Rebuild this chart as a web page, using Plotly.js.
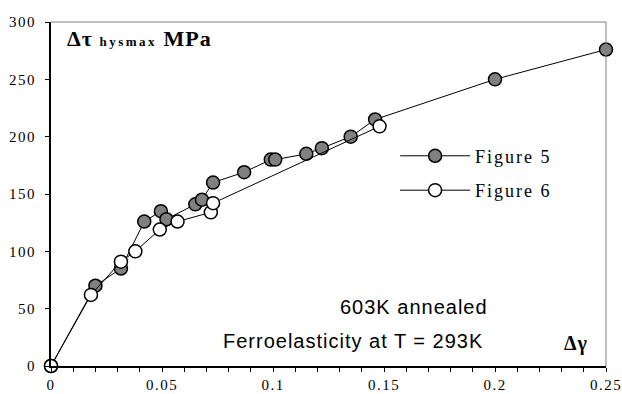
<!DOCTYPE html>
<html>
<head>
<meta charset="utf-8">
<script src="https://cdn.plot.ly/plotly-3.0.1.min.js"></script>
<style>
html,body{margin:0;padding:0;background:#fff;}
#chart{width:622px;height:394px;}
.legendtext{letter-spacing:2px;}
.annotation-text{letter-spacing:1px;}
</style>
</head>
<body>
<div id="chart"></div>
<script>
// Figure 5 series (grey markers)
const fig5X = [0, 0.020, 0.0315, 0.042, 0.0495, 0.052, 0.065, 0.068, 0.073, 0.087, 0.099, 0.101, 0.115, 0.122, 0.135, 0.146, 0.200, 0.250];
const fig5Y = [0, 70, 85, 126, 135, 128, 141, 145, 160, 169, 180, 180, 185, 190, 200, 215, 250, 276];
// Figure 6 series (white markers)
const fig6X = [0, 0.018, 0.0315, 0.038, 0.049, 0.057, 0.072, 0.073, 0.148];
const fig6Y = [0, 62, 91, 100, 119, 126, 134, 142, 209];
const seriesNames = ["Figure 5", "Figure 6"];
const xTicks = [0, 0.05, 0.1, 0.15, 0.2, 0.25];
const yTicks = [0, 50, 100, 150, 200, 250, 300];

const serif = "Liberation Serif";
const sans = "Liberation Sans";

const traces = [
  {x: fig5X, y: fig5Y, name: seriesNames[0], type: "scatter", mode: "lines+markers",
   legendgroup: "a", cliponaxis: false,
   line: {color: "#000", width: 1},
   marker: {size: 13, color: "#808080", line: {color: "#000", width: 1.5}}},
  {x: fig6X, y: fig6Y, name: seriesNames[1], type: "scatter", mode: "lines+markers",
   legendgroup: "b", cliponaxis: false,
   line: {color: "#000", width: 1},
   marker: {size: 13, color: "#fff", line: {color: "#000", width: 1.5}}}
];

const layout = {
  width: 622, height: 394,
  margin: {l: 51, r: 16, t: 22, b: 28},
  paper_bgcolor: "#fff", plot_bgcolor: "#fff",
  font: {family: serif, color: "#000"},
  showlegend: true,
  legend: {x: 0.62, y: 0.664, xanchor: "left", yanchor: "top",
           bgcolor: "rgba(0,0,0,0)", borderwidth: 0,
           font: {family: serif, size: 18, color: "#000"},
           itemwidth: 70, tracegroupgap: 8, traceorder: "grouped"},
  xaxis: {range: [0, 0.25], tickvals: xTicks, showgrid: false, zeroline: false,
          showline: true, linecolor: "#000", linewidth: 2, ticklabeloverflow: "allow",
          ticks: "outside", ticklen: 4, tickwidth: 1, tickcolor: "#000",
          minor: {dtick: 0.01, ticks: "outside", ticklen: 4, tickwidth: 1, tickcolor: "#000", showgrid: false},
          tickfont: {family: serif, size: 15, color: "#000"}},
  yaxis: {range: [0, 300], tickvals: yTicks, showgrid: false, zeroline: false,
          showline: true, linecolor: "#000", linewidth: 2, ticklabelstandoff: 6,
          ticks: "outside", ticklen: 4, tickwidth: 1, tickcolor: "#000",
          tickfont: {family: serif, size: 15, color: "#000"}},
  shapes: [
    {type: "line", xref: "paper", yref: "paper", x0: 0, x1: 1, y0: 1, y1: 1, line: {color: "#808080", width: 1}},
    {type: "line", xref: "paper", yref: "paper", x0: 1, x1: 1, y0: 0, y1: 1, line: {color: "#808080", width: 1}}
  ],
  annotations: [
    {xref: "paper", yref: "paper", x: 0.025, y: 0.953, xanchor: "left", yanchor: "middle", showarrow: false,
     text: "<b>Δτ <span style='font-size:13px;letter-spacing:2.5px'>hysmax</span> MPa</b>",
     font: {family: serif, size: 22, color: "#000"}},
    {xref: "paper", yref: "paper", x: 0.654, y: 0.1715, xanchor: "center", yanchor: "middle", showarrow: false,
     text: "603K annealed", font: {family: sans, size: 20, color: "#000"}},
    {xref: "paper", yref: "paper", x: 0.544, y: 0.0727, xanchor: "center", yanchor: "middle", showarrow: false,
     text: "Ferroelasticity at T = 293K", font: {family: sans, size: 20, color: "#000"}},
    {xref: "paper", yref: "paper", x: 0.946, y: 0.064, xanchor: "center", yanchor: "middle", showarrow: false,
     text: "<b>Δγ</b>", font: {family: serif, size: 20, color: "#000"}}
  ]
};

Plotly.newPlot("chart", traces, layout, {displayModeBar: false, staticPlot: true}).then(function (gd) {
  gd.querySelectorAll(".xaxislayer-above text, .yaxislayer-above text").forEach(function (t) {
    t.style.setProperty("font-family", "'Liberation Serif', serif", "important");
    t.style.setProperty("letter-spacing", "1.5px", "important");
  });
});
</script>
</body>
</html>
